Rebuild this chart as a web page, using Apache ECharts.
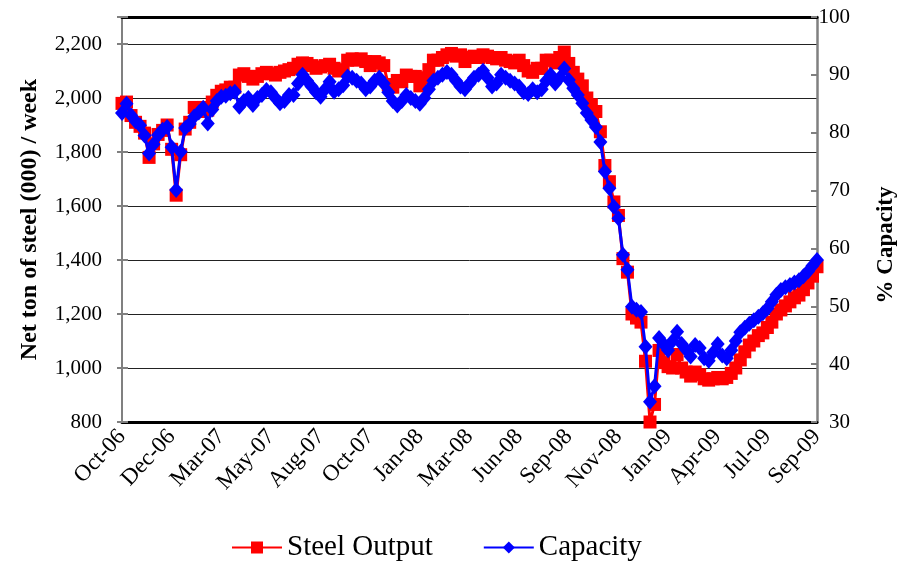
<!DOCTYPE html>
<html>
<head>
<meta charset="utf-8">
<script src="https://cdn.jsdelivr.net/npm/echarts@6/dist/echarts.min.js"></script>
<style>html,body{margin:0;padding:0;background:#fff}#c{width:903px;height:562px}</style>
</head>
<body>
<div id="c"></div>
<script>
const tickLabels = ['Oct-06','Dec-06','Mar-07','May-07','Aug-07','Oct-07','Jan-08','Mar-08','Jun-08','Sep-08','Nov-08','Jan-09','Apr-09','Jul-09','Sep-09'];
const labelEvery = 11;

const steelOutput = [
  1980,1985,1935,1910,1895,1870,1780,1830,1865,1880,
  1900,1810,1640,1790,1885,1910,1965,1950,1965,1955,
  1985,2010,2025,2030,2040,2040,2085,2090,2080,2070,
  2080,2090,2095,2090,2085,2095,2100,2105,2110,2125,
  2130,2128,2120,2110,2115,2120,2125,2110,2100,2105,
  2140,2145,2140,2145,2135,2120,2135,2130,2120,2050,
  2040,2065,2060,2085,2080,2080,2045,2075,2105,2140,
  2140,2150,2160,2165,2155,2160,2135,2150,2155,2150,
  2160,2155,2150,2145,2150,2140,2135,2130,2140,2120,
  2100,2095,2110,2110,2140,2140,2130,2150,2170,2128,
  2095,2070,2045,2000,1975,1950,1875,1750,1690,1615,
  1565,1405,1355,1200,1185,1170,1025,800,865,1065,
  1020,1005,1000,1050,1000,985,970,985,975,960,
  955,960,965,960,965,980,1000,1030,1060,1085,
  1100,1120,1130,1150,1170,1200,1215,1230,1245,1260,
  1270,1290,1315,1340,1375
];

const capacity = [
  83.4,85,83,82,81.3,79.5,76.4,78,79.6,80.5,
  81,77.5,70.1,76.7,80.8,81.5,82.8,83.5,84.3,81.6,
  84,85.5,86.2,86.4,86.8,87.1,84.5,85.5,86,84.8,
  86,86.5,87.4,87,86,85.1,85.5,86.5,86.5,88.5,
  90,89,88,87,86.2,87.5,88.8,87.1,87.5,88.2,
  89.7,89.5,89,88.5,87.5,88,89,89.5,88.5,87,
  85.5,84.7,85.5,86.5,86,85.5,85,86,87.5,89,
  89.5,90,90.5,90,89,88,87.5,88.5,89.5,90,
  90.7,89.5,88,88.5,90,89.5,89,88.5,88,87,
  86.7,87.5,87,87.5,89,90,88.5,89.5,91.1,89.1,
  87.7,86.5,85.1,83.4,82.2,81,78.4,73.3,70.4,67.2,
  65.2,58.9,56.3,49.9,49.4,49,43,33.5,36.2,44.5,
  43.5,42.4,44,45.6,43.5,42.5,41.3,43.3,42.8,41,
  40.6,42,43.5,41.5,41,42.4,44,45.5,46.3,47,
  47.6,48.2,48.8,49.6,50.8,52,52.8,53.3,53.7,54.1,
  54.5,55.2,56,57,58
];

const weeks = steelOutput.map((_, i) => 'W' + i);

const FONT = '"Liberation Serif", "DejaVu Serif", serif';
const chart = echarts.init(document.getElementById('c'), null, {renderer: 'canvas'});
chart.setOption({
  animation: false,
  backgroundColor: '#fff',
  grid: {left: 122, right: 86, top: 17, bottom: 140},
  legend: {
    bottom: -5, left: 226,
    itemWidth: 50, itemHeight: 15, itemGap: 50,
    textStyle: {fontFamily: FONT, fontSize: 29, color: '#000'},
    data: ['Steel Output', 'Capacity']
  },
  graphic: [{
    type: 'text', x: 886, y: 245, rotation: Math.PI / 2,
    style: {text: '% Capacity', fontFamily: FONT, fontSize: 23, fontWeight: 'bold', fill: '#000', align: 'center', verticalAlign: 'middle'}
  }],
  xAxis: [{
    type: 'category', data: weeks, boundaryGap: false,
    axisLine: {show: true, lineStyle: {color: '#000', width: 3}},
    axisTick: {show: false},
    axisLabel: {
      interval: labelEvery - 1, rotate: 47, margin: 11,
      fontFamily: FONT, fontSize: 23, color: '#000',
      formatter: (v, i) => tickLabels[Math.round(i / labelEvery)] || ''
    },
    splitLine: {show: false}
  }, {
    type: 'category', data: weeks, boundaryGap: false, position: 'top',
    axisLine: {show: true, lineStyle: {color: '#000', width: 3}},
    axisTick: {show: false}, axisLabel: {show: false}, splitLine: {show: false}
  }],
  yAxis: [{
    type: 'value', min: 800, max: 2300, interval: 200, position: 'left',
    name: 'Net ton of steel (000) / week', nameLocation: 'middle', nameRotate: 90, nameGap: 80,
    nameTextStyle: {fontFamily: FONT, fontSize: 24, fontWeight: 'bold', color: '#000'},
    axisLine: {show: true, lineStyle: {color: '#808080', width: 2}},
    axisTick: {show: true, length: 5, lineStyle: {color: '#808080', width: 2}},
    axisLabel: {
      margin: 20, fontFamily: FONT, fontSize: 21, color: '#000',
      formatter: v => v >= 2300 ? '' : v.toLocaleString('en-US')
    },
    splitLine: {show: true, lineStyle: {color: '#222', width: 1}}
  }, {
    type: 'value', min: 30, max: 100, interval: 10, position: 'right',
    axisLine: {show: true, lineStyle: {color: '#808080', width: 2.5}},
    axisTick: {show: true, inside: true, length: 6, lineStyle: {color: '#808080', width: 2}},
    axisLabel: {margin: 33, align: 'right', fontFamily: FONT, fontSize: 21, color: '#000'},
    splitLine: {show: false}
  }, {
    type: 'value', min: 800, max: 2300, interval: 200, position: 'left',
    axisLine: {show: false},
    axisTick: {show: true, inside: true, length: 6, lineStyle: {color: '#808080', width: 2}},
    axisLabel: {show: false}, splitLine: {show: false}
  }],
  series: [{
    name: 'Steel Output', type: 'line', yAxisIndex: 0, data: steelOutput,
    symbol: 'rect', symbolSize: 13, showAllSymbol: true,
    itemStyle: {color: '#ff0000'}, lineStyle: {color: '#ff0000', width: 3}, z: 2
  }, {
    name: 'Capacity', type: 'line', yAxisIndex: 1, data: capacity,
    symbol: 'diamond', symbolSize: [14, 16], showAllSymbol: true,
    itemStyle: {color: '#0000ff'}, lineStyle: {color: '#0000ff', width: 3}, z: 3
  }]
});
</script>
</body>
</html>
